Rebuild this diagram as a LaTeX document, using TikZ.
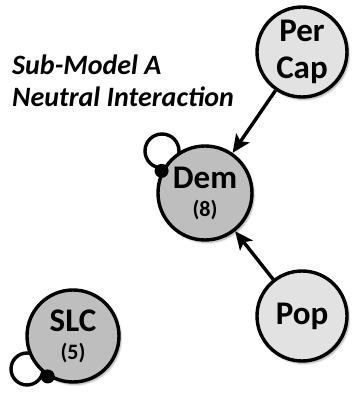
\documentclass[tikz,border=0pt]{standalone}
\usepackage{fontspec}
\setmainfont{Carlito}
\usetikzlibrary{arrows.meta,shadows.blur}
\definecolor{darkfill}{RGB}{190,190,190}
\definecolor{lightfill}{RGB}{226,226,226}
\begin{document}
\begin{tikzpicture}[x=1pt,y=1pt,
  varnode/.style={circle,draw=black,line width=3.4pt,inner sep=0pt,
    font=\bfseries\fontsize{33}{34}\selectfont,align=center,
    blur shadow={shadow xshift=2pt,shadow yshift=-2.5pt,shadow blur steps=6,shadow opacity=35}},
  focal/.style={varnode,fill=darkfill,minimum size=94pt},
  driver/.style={varnode,fill=lightfill,minimum size=90pt},
  link/.style={line width=3.4pt,-{Stealth[length=18pt,width=16pt,inset=4pt]}},
  loopline/.style={line width=3.4pt},
  knob/.style={circle,fill=black,inner sep=0pt,minimum size=14pt},
  count/.style={font=\bfseries\fontsize{22}{23}\selectfont}]
\useasboundingbox (0,0) rectangle (352,394);
% self-loops sit behind their circles
\draw[loopline] (162,243) circle (17);
\draw[loopline] (27,25) circle (16);
% variables
\node[driver] (percap) at (302,342) {Per\\[3pt]Cap};
\node[focal] (dem) at (205,201) {Dem\\[-6pt]{\fontsize{22}{23}\selectfont(8)}};
\node[driver] (pop) at (302,78) {Pop};
\node[focal,minimum size=92pt] (slc) at (73,58) {SLC\\[-6pt]{\fontsize{22}{23}\selectfont(5)}};
% loop anchors
\node[knob] (demknob) at (dem.153) {};
\node[knob] (slcknob) at (slc.238) {};
% influences
\draw[link] (percap) -- (dem);
\draw[link] (pop) -- (dem);
% heading
\node[anchor=north west,align=left,inner sep=0pt,
  font=\bfseries\itshape\fontsize{28}{32}\selectfont] (title) at (12,339)
  {Sub-Model A\\Neutral Interaction};
\end{tikzpicture}
\end{document}
